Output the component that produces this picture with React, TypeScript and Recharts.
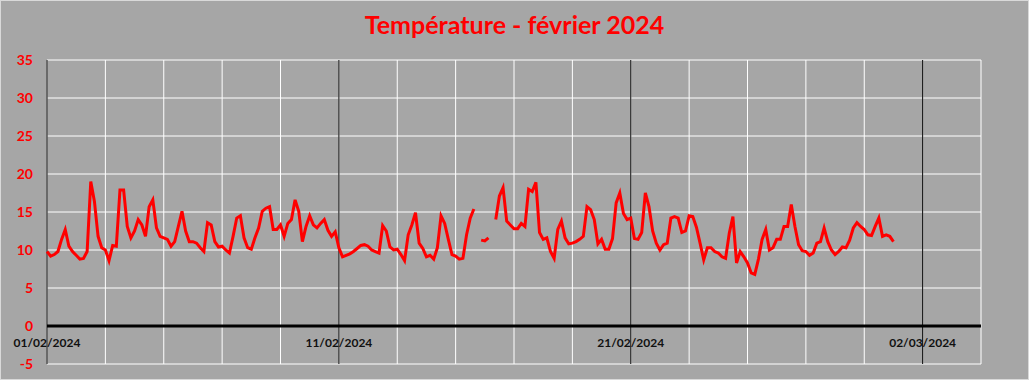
import React from "react";
import { LineChart, Line, XAxis, YAxis, CartesianGrid, ReferenceLine } from "recharts";

// one reading every 3 hours, starting 01/02/2024 00:00
const STEP_HOURS = 3;

// temperatures (°C), 8 readings per day, null = missing
const temps: (number | null)[] = [
    9.8, 9.2, 9.4, 9.8, 11.4, 12.7, 10.5, 9.8,      // 01
    9.3, 8.8, 8.9, 9.8, 19.0, 16.4, 11.8, 10.3,     // 02
    10.0, 8.6, 10.6, 10.5, 17.9, 17.9, 13.1, 11.6,  // 03
    12.5, 14.0, 13.3, 11.8, 15.7, 16.6, 12.9, 11.8, // 04
    11.6, 11.4, 10.5, 11.1, 13.1, 15.1, 12.5, 11.1, // 05
    11.1, 10.9, 10.3, 9.8, 13.6, 13.3, 11.1, 10.4,  // 06
    10.5, 10.0, 9.6, 11.8, 14.2, 14.5, 11.6, 10.3,  // 07
    10.1, 11.6, 12.9, 15.1, 15.5, 15.7, 12.7, 12.7, // 08
    13.3, 11.8, 13.5, 14.0, 16.6, 15.1, 11.1, 13.1, // 09
    14.5, 13.3, 12.9, 13.5, 14.0, 12.6, 11.8, 12.4, // 10
    10.3, 9.1, 9.3, 9.5, 9.8, 10.2, 10.6, 10.7,     // 11
    10.5, 10.0, 9.8, 9.6, 13.2, 12.5, 10.4, 10.0,   // 12
    10.1, 9.4, 8.6, 12.0, 13.3, 14.9, 10.9, 10.2,   // 13
    9.1, 9.3, 8.8, 10.3, 14.5, 13.5, 11.4, 9.4,     // 14
    9.2, 8.8, 8.9, 12.0, 14.2, 15.4, null, 11.3,    // 15
    11.2, 11.6, null, 14.0, 17.1, 18.2, 13.8, 13.3, // 16
    12.8, 12.8, 13.5, 13.1, 18.0, 17.7, 18.9, 12.3, // 17
    11.4, 11.6, 9.8, 8.9, 12.7, 13.8, 11.6, 10.8,   // 18
    10.9, 11.1, 11.4, 11.8, 15.7, 15.3, 14.0, 10.8, // 19
    11.4, 10.1, 10.1, 11.5, 16.2, 17.5, 14.8, 14.0, // 20
    14.2, 11.5, 11.4, 12.3, 17.5, 15.7, 12.5, 10.9, // 21
    10.0, 10.7, 10.9, 14.2, 14.4, 14.2, 12.3, 12.5, // 22
    14.5, 14.4, 13.0, 10.9, 8.7, 10.3, 10.3, 9.8,   // 23
    9.6, 9.1, 8.9, 12.2, 14.4, 8.3, 9.8, 9.1,       // 24
    8.3, 7.0, 6.8, 8.8, 11.4, 12.7, 10.0, 10.3,     // 25
    11.4, 11.4, 13.1, 13.1, 16.0, 13.1, 10.7, 9.9,  // 26
    9.8, 9.3, 9.6, 10.9, 11.1, 12.9, 11.1, 10.0,    // 27
    9.4, 9.8, 10.4, 10.3, 11.3, 12.9, 13.6, 13.1,   // 28
    12.7, 12.0, 11.9, 13.1, 14.2, 11.8, 12.0, 11.8, // 29
    11.1,
];

// x axis in hours since 01/02/2024 00:00
const gridHours = [0, 48, 96, 144, 192, 240, 288, 336, 384, 432, 480, 528, 576, 624, 672, 720, 768];
const majorHours = [0, 240, 480, 720];
const dateLabels: { [h: number]: string } = {
    0: "01/02/2024",
    240: "11/02/2024",
    480: "21/02/2024",
    720: "02/03/2024",
};
const yTicks = [-5, 0, 5, 10, 15, 20, 25, 30, 35];

const data = temps.map((t, i) => ({ h: i * STEP_HOURS, t }));

const BG = "#a6a6a6";

function DateTick(props: any) {
    const { x, y, payload } = props;
    const label = dateLabels[payload.value];
    if (!label) return null;
    return (
        <text x={x} y={y} dy={-25} textAnchor="middle" fill="#111" fontSize={12} fontWeight="bold" fontFamily="Lato, sans-serif">
            {label}
        </text>
    );
}

export default function App() {
    return (
        <div style={{ position: "absolute", left: 0, top: 0, width: 1029, height: 380, background: BG, overflow: "hidden" }}>
            <div style={{
                position: "absolute", left: 0, top: 9, width: 1029, textAlign: "center",
                color: "#ff0000", fontFamily: "Lato, sans-serif", fontWeight: "bold", fontSize: 25, lineHeight: "30px",
            }}>
                Température - février 2024
            </div>
            <LineChart width={1029} height={380} data={data} margin={{ top: 60, right: 48, bottom: 0, left: 0 }}>
                <CartesianGrid stroke="#ffffff" strokeWidth={1} />
                <XAxis
                    dataKey="h"
                    type="number"
                    domain={[0, 768]}
                    ticks={gridHours}
                    interval={0}
                    axisLine={false}
                    tickLine={false}
                    height={16}
                    tick={<DateTick />}
                />
                <YAxis
                    domain={[-5, 35]}
                    ticks={yTicks}
                    interval={0}
                    axisLine={false}
                    tickLine={false}
                    width={47}
                    tickMargin={8}
                    tick={{ fill: "#ff0000", fontSize: 14, fontWeight: "bold", fontFamily: "Lato, sans-serif" }}
                />
                {majorHours.map((h) => (
                    <ReferenceLine key={h} x={h} stroke="#000" strokeWidth={1} />
                ))}
                <ReferenceLine y={0} stroke="#000" strokeWidth={3} />
                <Line
                    dataKey="t"
                    stroke="#ff0000"
                    strokeWidth={3}
                    dot={false}
                    type="linear"
                    connectNulls={false}
                    isAnimationActive={false}
                />
            </LineChart>
            <div style={{ position: "absolute", inset: 0, border: "1px solid #d9d9d9", pointerEvents: "none" }} />
        </div>
    );
}
